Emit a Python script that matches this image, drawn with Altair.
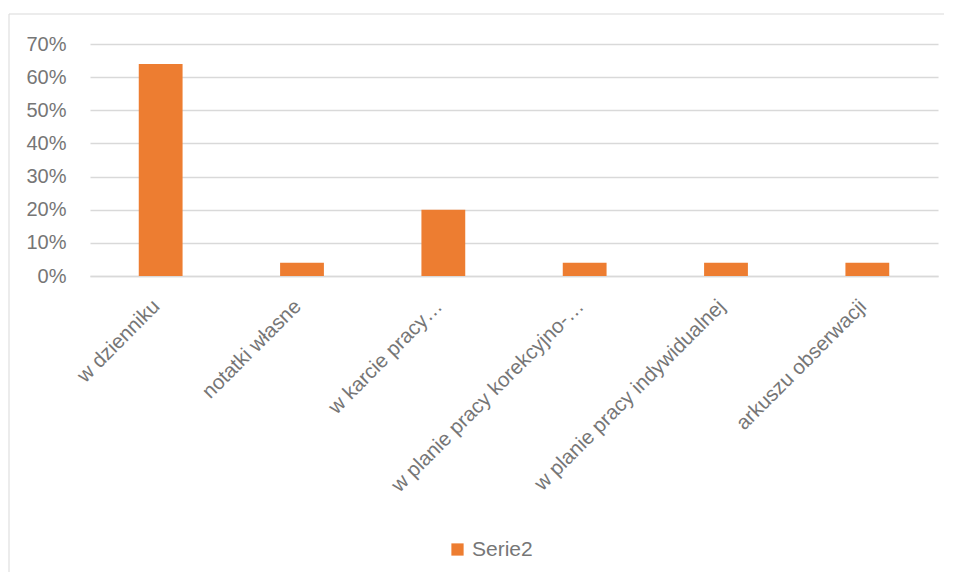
import altair as alt
import pandas as pd

categories = ["w dzienniku", "notatki własne", "w karcie pracy…",
              "w planie pracy korekcyjno-…", "w planie pracy indywidualnej",
              "arkuszu obserwacji"]
values = [0.64, 0.04, 0.20, 0.04, 0.04, 0.04]
series_name = "Serie2"
y_ticks = [0, 0.1, 0.2, 0.3, 0.4, 0.5, 0.6, 0.7]

df = pd.DataFrame({"cat": categories, "val": values, "series": [series_name] * len(categories)})

FONT = "Liberation Sans"
GRAY = "#767676"

frame = alt.Chart(pd.DataFrame({"a": [0]})).mark_rect(
    fill=None, stroke="#d9d9d9", strokeWidth=1, clip=False
).encode(
    x=alt.value(-81), x2=alt.value(860), y=alt.value(-30), y2=alt.value(545)
)

bars = alt.Chart(df).mark_bar(color="#ED7D31").encode(
    x=alt.X("cat:N", sort=categories, title=None,
            scale=alt.Scale(paddingInner=0.69, paddingOuter=0.345),
            axis=alt.Axis(labelAngle=-45, labelAlign="right", labelBaseline="middle",
                          labelFont=FONT, labelFontSize=20.5, labelColor=GRAY,
                          labelPadding=27, labelOffset=-4, ticks=False, domain=True,
                          domainColor="#d9d9d9", domainWidth=1.5, labelLimit=400,
                          grid=False)),
    y=alt.Y("val:Q", title=None,
            scale=alt.Scale(domain=[0, 0.7], nice=False),
            axis=alt.Axis(values=y_ticks, format=".0%", labelFont=FONT,
                          labelFontSize=20, labelColor=GRAY, labelPadding=24,
                          ticks=False, domain=False, gridColor="#d9d9d9",
                          gridWidth=1.5)),
    color=alt.Color("series:N", title=None,
                    scale=alt.Scale(domain=[series_name], range=["#ED7D31"]),
                    legend=alt.Legend(orient="none", legendX=357, legendY=495,
                                      symbolType="square", symbolSize=150,
                                      symbolStrokeWidth=0, labelOffset=4,
                                      labelFont=FONT, labelFontSize=21,
                                      labelColor=GRAY)),
)

chart = alt.layer(frame, bars).properties(
    width=848, height=232,
    autosize=alt.AutoSizeParams(type="none"),
    padding={"left": 82, "top": 36, "right": 6, "bottom": 296},
    background="white",
).configure_view(stroke=None)

chart.save("out.html", embed_options={"renderer": "svg", "actions": False})
